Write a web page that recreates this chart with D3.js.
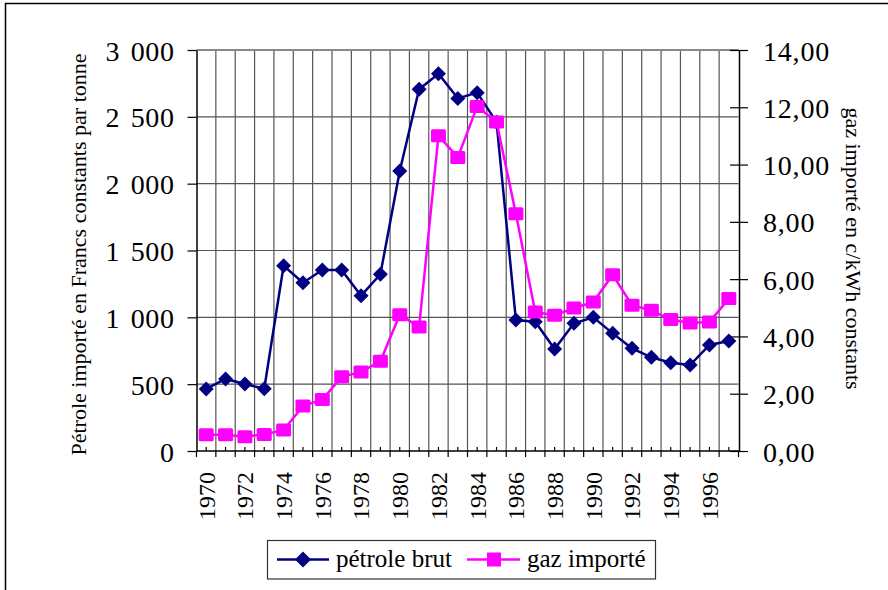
<!DOCTYPE html>
<html>
<head>
<meta charset="utf-8">
<script src="https://cdn.jsdelivr.net/npm/d3@7"></script>
<style>
  html, body { margin: 0; padding: 0; background: #fff; }
  svg { display: block; }
  svg text { font-family: "Liberation Serif", "Times New Roman", serif; }
</style>
</head>
<body>
<svg id="chart" width="888" height="590"></svg>
<script>
// ---- data ----
const years = [1970, 1971, 1972, 1973, 1974, 1975, 1976, 1977, 1978, 1979,
               1980, 1981, 1982, 1983, 1984, 1985, 1986, 1987, 1988, 1989,
               1990, 1991, 1992, 1993, 1994, 1995, 1996, 1997];
const petroleBrut = [464, 539, 501, 466, 1386, 1259, 1354, 1354, 1162, 1322,
                     2095, 2706, 2823, 2638, 2681, 2460, 980, 967, 763, 955,
                     1000, 880, 768, 701, 661, 643, 793, 823];
const gazImporte = [0.57, 0.57, 0.50, 0.58, 0.73, 1.57, 1.80, 2.59, 2.76, 3.13,
                    4.76, 4.33, 11.01, 10.25, 12.03, 11.49, 8.28, 4.85, 4.74, 4.99,
                    5.20, 6.15, 5.09, 4.91, 4.59, 4.47, 4.50, 5.32];
const leftTicks = [0, 500, 1000, 1500, 2000, 2500, 3000];
const rightTicks = [0, 2, 4, 6, 8, 10, 12, 14];
const yearLabels = [1970, 1972, 1974, 1976, 1978, 1980, 1982, 1984, 1986, 1988, 1990, 1992, 1994, 1996];
const seriesNames = ["pétrole brut", "gaz importé"];
const leftTitle = "Pétrole importé en Francs constants par tonne";
const rightTitle = "gaz importé en c/kWh constants";

// ---- layout ----
const L = 196.5, R = 738.5, T = 50, B = 451;
const navy = "#000080", magenta = "#FF00FF";
const SERIF = '"Liberation Serif", "Times New Roman", serif';

const svg = d3.select("#chart");
const fr = d3.formatLocale({decimal: ",", thousands: " ", grouping: [3], currency: ["", ""]});
const fmtLeft = fr.format(",.0f");
const fmtRight = fr.format(".2f");

const x = d3.scaleBand().domain(years).range([L, R]).padding(0);
const yL = d3.scaleLinear().domain([0, 3000]).range([B, T]);
const yR = d3.scaleLinear().domain([0, 14]).range([B, T]);
const cx = d => x(d) + x.bandwidth() / 2;

// outer border
svg.append("rect").attr("x", 5.5).attr("y", 3.5).attr("width", 900).attr("height", 700)
  .attr("fill", "none").attr("stroke", "#000").attr("stroke-width", 1.5);

// gridlines
const grid = svg.append("g").attr("stroke", "#555").attr("stroke-width", 1.2);
const bounds = years.map(d => x(d)).concat([x(years[years.length - 1]) + x.bandwidth()]);
grid.selectAll("line.v").data(bounds.slice(1, -1)).join("line")
  .attr("x1", d => d).attr("x2", d => d).attr("y1", T).attr("y2", B);
grid.selectAll("line.h").data(leftTicks.filter(v => v > 0)).join("line")
  .attr("x1", L).attr("x2", R).attr("y1", d => yL(d)).attr("y2", d => yL(d))
  .attr("stroke", d => d === 3000 ? "#888" : "#555").attr("stroke-width", d => d === 3000 ? 2 : 1.2);

// x axis: boundary ticks below, center ticks inside
const xa = svg.append("g");
xa.append("line").attr("x1", L).attr("x2", R + 1).attr("y1", B).attr("y2", B)
  .attr("stroke", "#000").attr("stroke-width", 1.5);
xa.selectAll("line.bt").data(bounds).join("line")
  .attr("x1", d => d).attr("x2", d => d).attr("y1", B).attr("y2", B + 6)
  .attr("stroke", "#000").attr("stroke-width", 1.2);
xa.selectAll("line.ct").data(years).join("line")
  .attr("x1", d => cx(d)).attr("x2", d => cx(d)).attr("y1", B - 4).attr("y2", B)
  .attr("stroke", "#000").attr("stroke-width", 1.2);
xa.selectAll("text").data(yearLabels).join("text")
  .attr("transform", d => `translate(${cx(d)},472) rotate(-90)`)
  .attr("text-anchor", "end").attr("dy", "0.35em")
  .attr("font-size", 24).attr("fill", "#000").text(d => d);

// left axis
const ga = svg.append("g").attr("transform", `translate(${L},0)`)
  .call(d3.axisLeft(yL).tickValues(leftTicks).tickFormat(fmtLeft).tickSize(9).tickSizeOuter(0).tickPadding(13));
ga.attr("font-family", null).attr("font-size", null);
ga.select(".domain").attr("stroke", "#000").attr("stroke-width", 1.5);
ga.selectAll(".tick line").attr("stroke", "#000").attr("stroke-width", 1.2);
ga.selectAll(".tick text").style("font-family", SERIF).style("font-size", "28px")
  .style("word-spacing", "3px").style("letter-spacing", "0.6px").attr("fill", "#000").attr("dy", "0.36em");

// right axis
const gr = svg.append("g").attr("transform", `translate(${R + 0.5},0)`)
  .call(d3.axisRight(yR).tickValues(rightTicks).tickFormat(fmtRight).tickSize(9).tickSizeOuter(0).tickPadding(15));
gr.attr("font-family", null).attr("font-size", null);
gr.select(".domain").attr("stroke", "#000").attr("stroke-width", 1.5);
gr.selectAll(".tick line").attr("stroke", "#000").attr("stroke-width", 1.2).attr("x1", -9);
gr.selectAll(".tick text").style("font-family", SERIF).style("font-size", "28px")
  .style("letter-spacing", "0.8px").attr("fill", "#000").attr("dy", "0.36em");

// axis titles
svg.append("text").attr("transform", `translate(86,${(T + B) / 2 + 4}) rotate(-90)`)
  .attr("text-anchor", "middle").attr("font-size", 22).text(leftTitle);
svg.append("text").attr("transform", `translate(846,${(T + B) / 2 - 2}) rotate(90)`)
  .attr("text-anchor", "middle").attr("font-size", 22).text(rightTitle);

// series
const lineP = d3.line().x((d, i) => cx(years[i])).y(d => yL(d));
const lineG = d3.line().x((d, i) => cx(years[i])).y(d => yR(d));
svg.append("path").datum(petroleBrut).attr("d", lineP)
  .attr("fill", "none").attr("stroke", navy).attr("stroke-width", 2.5);
const diamond = s => `M0,${-s}L${s},0L0,${s}L${-s},0Z`;
svg.append("g").selectAll("path").data(petroleBrut).join("path")
  .attr("transform", (d, i) => `translate(${cx(years[i])},${yL(d)})`)
  .attr("d", diamond(7.5)).attr("fill", navy);

svg.append("path").datum(gazImporte).attr("d", lineG)
  .attr("fill", "none").attr("stroke", magenta).attr("stroke-width", 2.5);
svg.append("g").selectAll("rect").data(gazImporte).join("rect")
  .attr("x", (d, i) => cx(years[i]) - 7.5).attr("y", d => yR(d) - 6.5)
  .attr("width", 15).attr("height", 13).attr("rx", 1.5).attr("fill", magenta);

// legend
const lg = svg.append("g");
lg.append("rect").attr("x", 267.5).attr("y", 540.5).attr("width", 388).attr("height", 38.5)
  .attr("fill", "#fff").attr("stroke", "#333").attr("stroke-width", 1.2);
const ly = 559.5;
lg.append("line").attr("x1", 277).attr("x2", 329).attr("y1", ly).attr("y2", ly).attr("stroke", navy).attr("stroke-width", 2.5);
lg.append("path").attr("transform", `translate(303,${ly})`).attr("d", diamond(8)).attr("fill", navy);
lg.append("text").attr("x", 336).attr("y", ly).attr("dy", "0.3em").attr("font-size", 25).text(seriesNames[0]);
lg.append("line").attr("x1", 467).attr("x2", 520).attr("y1", ly).attr("y2", ly).attr("stroke", magenta).attr("stroke-width", 2.5);
lg.append("rect").attr("x", 487).attr("y", ly - 7).attr("width", 14).attr("height", 14).attr("fill", magenta);
lg.append("text").attr("x", 527).attr("y", ly).attr("dy", "0.3em").attr("font-size", 25).text(seriesNames[1]);
</script>
</body>
</html>
